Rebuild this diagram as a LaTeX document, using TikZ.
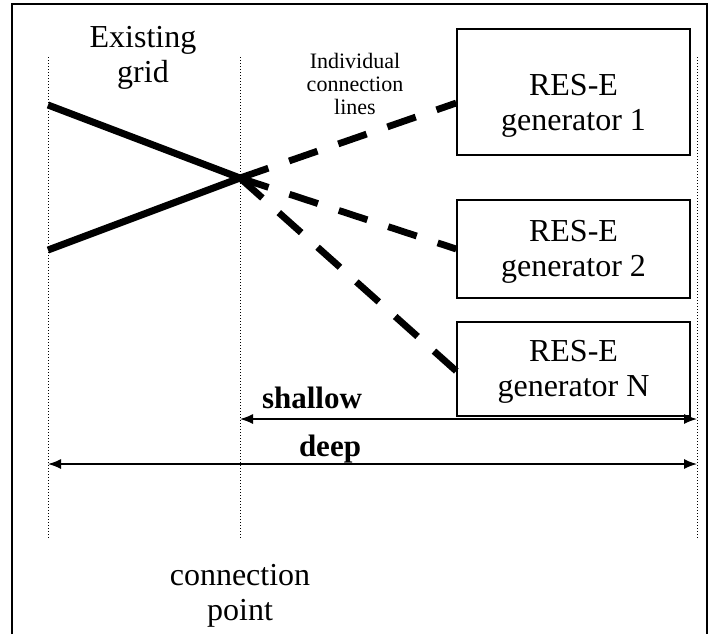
\documentclass[tikz,border=0pt]{standalone}
\usepackage{fontspec}
\setmainfont{Liberation Serif}
\usetikzlibrary{arrows.meta}

\begin{document}
\begin{tikzpicture}[x=0.5pt,y=-0.5pt,
    big/.style={font=\fontsize{16}{17.5}\selectfont, align=center},
    small/.style={font=\fontsize{11}{11.5}\selectfont, align=center},
    gen/.style={draw, line width=0.75pt, minimum width=116.5pt, inner sep=0pt},
    guide/.style={densely dotted, line width=0.5pt},
    feeder/.style={line width=3.5pt},
    branch/.style={line width=3.4pt, dash pattern=on 15pt off 11pt},
    span/.style={line width=0.7pt, {Latex[length=6.5pt,width=5pt]}-{Latex[length=6.5pt,width=5pt]}}]
      \useasboundingbox (0,0) rectangle (710,634);
      % frame, open at the bottom
      \draw[line width=1pt] (12,634) -- (12,4) -- (707,4) -- (707,634);

      % vertical guides
      \draw[guide] (48,57) -- (48,540);
      \draw[guide] (240,57) -- (240,540);
      \draw[guide] (697,57) -- (697,540);

      \node[big] (grid) at (143,58) {Existing\\grid};
      \node[small] (lines) at (355,84) {Individual\\connection\\lines};
      \node[big] (point) at (240,596) {connection\\point};

      % generators
      \node[gen, minimum height=63pt] (g1) at (573.5,92) {};
      \node[big] (t1) at (573.5,106) {RES-E\\generator 1};
      \node[gen, minimum height=49pt] (g2) at (573.5,249) {};
      \node[big] (t2) at (573.5,252) {RES-E\\generator 2};
      \node[gen, minimum height=47pt] (gN) at (573.5,369) {};
      \node[big] (tN) at (573.5,372) {RES-E\\generator N};

      % existing grid meets the connection point
      \coordinate (cp) at (240,178);
      \coordinate (a) at (48,105);
      \coordinate (b) at (48,250);
      \draw[feeder] (a) -- (cp);
      \draw[feeder] (b) -- (cp);
      \draw[branch] (cp) -- ([yshift=-5.5pt]g1.west);
      \draw[branch] (cp) -- (g2.west);
      \draw[branch] (cp) -- ([yshift=-1pt]gN.west);

      % reach of each concept
      \coordinate (s1) at (240,419);
      \coordinate (s2) at (697,419);
      \coordinate (d1) at (48,464);
      \coordinate (d2) at (697,464);
      \draw[span] (s1) -- (s2);
      \draw[span] (d1) -- (d2);
      \node[big, font=\fontsize{15.5}{17}\selectfont\bfseries, anchor=base west] (shallow) at (255,408) {shallow};
      \node[big, font=\fontsize{15.5}{17}\selectfont\bfseries, anchor=base] (deep) at (330,456) {deep};
\end{tikzpicture}
\end{document}
